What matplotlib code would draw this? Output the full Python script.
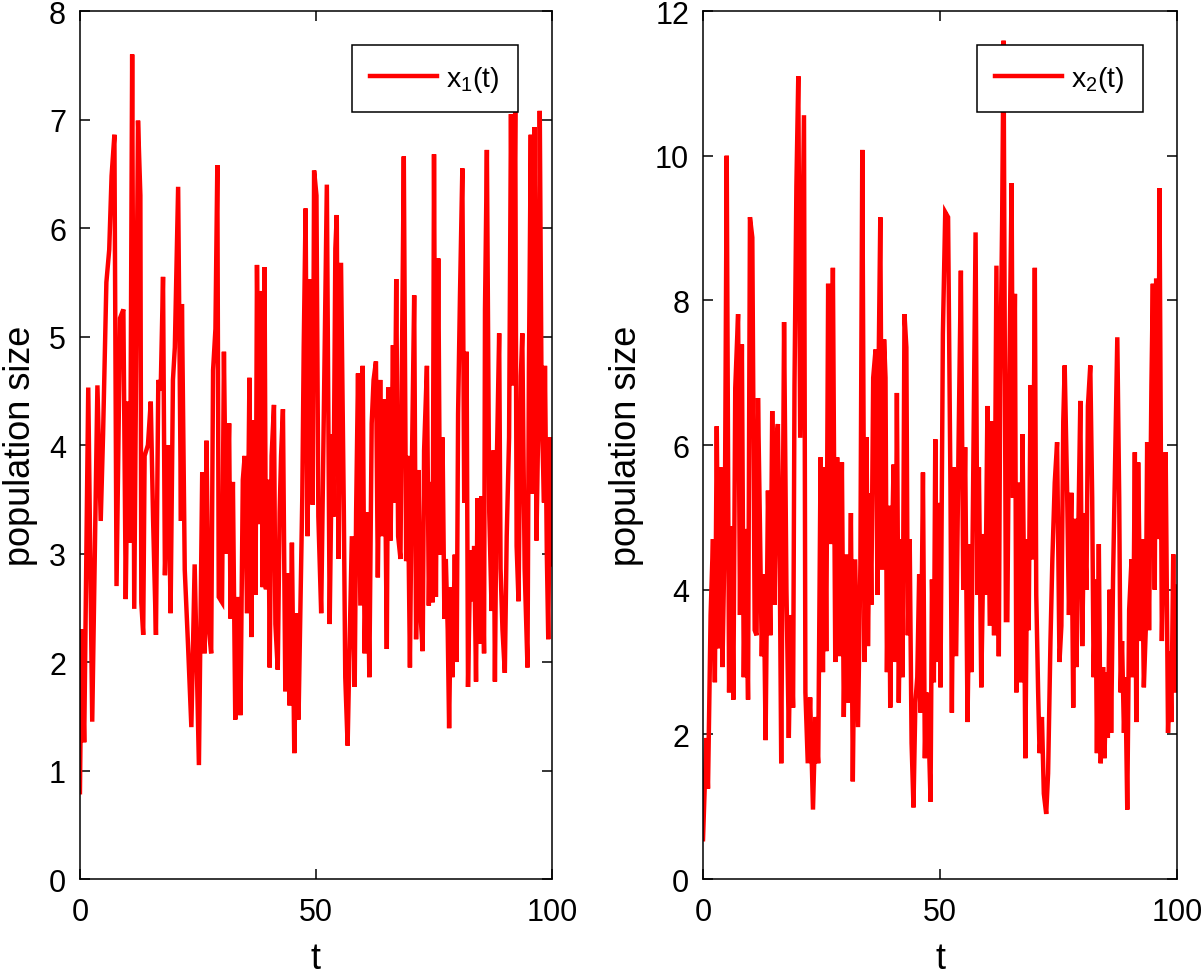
import matplotlib
matplotlib.use("Agg")
import matplotlib.pyplot as plt

# values (peaks / troughs of each path)
t1 = [0.0, 0.35, 0.9, 1.76, 2.6, 3.7, 4.4, 4.9, 5.6, 6.2, 6.7, 7.3, 7.75, 8.5, 9.2, 9.7,
      10.2, 10.6, 11.06, 11.5, 12.3, 12.8, 13.0, 13.4, 13.7, 14.4, 15.0, 15.5, 16.1, 16.6,
      17.1, 17.6, 18.0, 18.7, 19.2, 19.7, 20.1, 20.8, 21.4, 21.6, 22.2, 22.9, 23.6, 24.3,
      25.2, 25.9, 26.4, 26.8, 27.3, 27.8, 28.2, 28.7, 29.1, 29.4, 30.1, 30.5, 31.0, 31.6,
      31.9, 32.4, 32.9, 33.5, 34.0, 34.5, 34.9, 35.4, 35.9, 36.3, 36.8, 37.2, 37.5, 38.0,
      38.5, 38.7, 39.1, 39.4, 39.9, 40.2, 40.6, 41.1, 41.4, 41.9, 42.3, 42.6, 43.0, 43.5,
      44.0, 44.4, 44.9, 45.4, 45.9, 46.3, 46.7, 47.1, 47.4, 47.8, 48.2, 48.6, 48.9, 49.3,
      49.6, 50.1, 50.5, 51.1, 51.6, 52.3, 52.9, 53.4, 53.7, 54.1, 54.4, 54.8, 55.3, 55.9,
      56.2, 56.7, 57.1, 57.6, 58.2, 58.5, 58.9, 59.4, 59.9, 60.3, 60.8, 61.3, 61.8, 62.2,
      62.7, 63.1, 63.6, 64.0, 64.5, 65.0, 65.3, 65.8, 66.3, 66.6, 67.0, 67.4, 67.9, 68.2,
      68.6, 69.1, 69.4, 69.9, 70.3, 70.8, 71.2, 71.7, 72.1, 72.6, 72.9, 73.5, 73.9, 74.3,
      74.7, 75.0, 75.4, 75.9, 76.3, 76.8, 77.2, 77.5, 77.9, 78.2, 78.6, 78.9, 79.4, 79.8,
      80.1, 80.5, 81.0, 81.4, 81.9, 82.2, 82.7, 83.2, 83.5, 83.9, 84.2, 84.7, 85.1, 85.6,
      85.8, 86.2, 86.7, 87.2, 87.6, 87.9, 88.3, 88.8, 89.1, 89.5, 90.0, 90.4, 90.9, 91.3,
      91.7, 92.2, 92.5, 92.9, 93.4, 93.7, 94.2, 94.8, 95.1, 95.5, 95.8, 96.3, 96.7, 97.1,
      97.4, 97.8, 98.3, 98.5, 98.9, 99.2, 99.6, 100.0]
x1 = [0.8, 2.3, 1.26, 4.53, 1.45, 4.55, 3.3, 4.1, 5.5, 5.8, 6.48, 6.86, 2.7, 5.17, 5.25, 2.58,
      4.4, 3.1, 7.6, 2.49, 6.99, 6.3, 2.55, 2.25, 3.9, 4.0, 4.4, 3.3, 2.25, 4.6,
      4.5, 5.55, 2.8, 4.0, 2.45, 4.6, 4.9, 6.38, 3.3, 5.3, 2.85, 2.15, 1.4, 2.9,
      1.05, 3.75, 2.08, 4.04, 2.3, 2.08, 4.69, 5.07, 6.58, 2.6, 2.55, 4.86, 3.0, 4.2,
      2.4, 3.66, 1.47, 2.6, 1.51, 3.68, 3.9, 2.45, 4.62, 2.23, 4.23, 2.62, 5.66, 3.27,
      5.42, 2.69, 5.64, 2.67, 3.68, 1.95, 3.9, 4.37, 2.35, 1.93, 3.38, 3.9, 4.33, 1.73,
      2.82, 1.6, 3.1, 1.16, 2.45, 1.47, 2.52, 3.53, 4.9, 6.18, 3.16, 4.69, 5.53, 3.45,
      6.53, 6.3, 3.34, 2.45, 4.07, 6.4, 2.35, 4.1, 3.34, 5.81, 6.12, 2.95, 5.68, 3.38,
      1.86, 1.23, 2.12, 3.16, 1.77, 3.38, 4.66, 2.52, 4.73, 2.08, 3.38, 1.86, 4.2, 4.6,
      4.77, 2.78, 4.6, 3.16, 4.42, 2.12, 4.53, 3.12, 4.92, 3.47, 5.53, 3.16, 2.95, 4.73,
      6.66, 2.93, 3.9, 1.95, 3.77, 5.38, 2.21, 3.77, 2.47, 2.1, 3.95, 4.73, 2.52, 3.66,
      2.55, 6.68, 2.6, 5.72, 2.99, 4.07, 2.4, 2.95, 2.3, 1.39, 2.69, 1.86, 2.99, 2.0,
      4.29, 5.38, 6.55, 3.47, 4.86, 1.77, 3.03, 2.56, 3.07, 1.82, 3.51, 2.17, 3.53, 2.08,
      5.25, 6.72, 3.38, 2.47, 3.95, 1.82, 3.83, 5.03, 2.86, 2.3, 1.9, 3.16, 4.07, 7.05,
      4.55, 7.1, 3.07, 2.56, 4.64, 5.03, 2.86, 1.95, 4.69, 6.86, 3.55, 6.93, 3.12, 4.25,
      7.08, 4.33, 3.47, 4.73, 2.99, 2.21, 4.07, 2.9]

t2 = [0.0, 0.7, 1.05, 1.6, 2.1, 2.5, 2.9, 3.3, 3.7, 4.1, 4.6, 5.0, 5.5, 6.0, 6.4, 6.8,
      7.4, 7.8, 8.2, 8.6, 9.0, 9.5, 9.9, 10.4, 10.9, 11.3, 11.6, 12.0, 12.4, 12.8, 13.2,
      13.7, 14.2, 14.6, 15.1, 15.5, 15.8, 16.2, 16.5, 17.1, 17.6, 18.1, 18.5, 19.0, 19.3,
      19.7, 20.1, 20.5, 21.3, 21.6, 22.1, 22.6, 23.2, 23.7, 24.3, 24.8, 25.3, 25.7, 26.0,
      26.4, 26.9, 27.4, 27.9, 28.3, 28.8, 29.3, 29.7, 30.2, 30.7, 31.2, 31.6, 32.1, 32.7,
      33.2, 33.6, 34.1, 34.5, 34.8, 35.2, 35.5, 35.9, 36.4, 36.8, 37.1, 37.4, 37.8, 38.2,
      38.5, 38.8, 39.2, 39.5, 39.9, 40.2, 40.6, 40.9, 41.3, 41.7, 42.1, 42.5, 42.9, 43.2,
      43.6, 44.0, 44.4, 44.8, 45.2, 45.6, 45.9, 46.4, 46.8, 47.1, 47.5, 48.0, 48.3, 48.7,
      49.0, 49.4, 49.8, 50.1, 50.6, 51.1, 51.7, 52.2, 52.5, 52.9, 53.4, 53.9, 54.4, 54.9,
      55.3, 55.8, 56.3, 56.6, 57.0, 57.5, 57.9, 58.2, 58.7, 59.2, 59.6, 60.0, 60.5, 61.0,
      61.4, 61.9, 62.4, 62.7, 63.1, 63.4, 63.9, 64.2, 64.6, 65.1, 65.4, 65.8, 66.1, 66.6,
      67.0, 67.4, 67.7, 68.0, 68.4, 68.7, 69.1, 69.6, 70.0, 70.3, 70.7, 71.0, 71.5, 71.9,
      72.4, 72.8, 73.3, 73.7, 74.2, 74.7, 75.2, 75.6, 76.0, 76.3, 76.8, 77.2, 77.7, 78.1,
      78.4, 78.8, 79.1, 79.6, 80.0, 80.4, 80.9, 81.2, 81.7, 82.1, 82.4, 82.8, 83.1, 83.5,
      83.9, 84.4, 84.7, 85.1, 85.4, 85.8, 86.1, 86.5, 87.0, 87.4, 87.8, 88.1, 88.4, 88.8,
      89.1, 89.5, 89.9, 90.4, 90.7, 91.1, 91.4, 91.8, 92.3, 92.6, 93.0, 93.4, 93.7, 94.1,
      94.6, 94.9, 95.3, 95.6, 96.0, 96.3, 96.8, 97.3, 97.6, 98.1, 98.5, 98.8, 99.2, 99.5,
      99.85, 100.0]
x2 = [0.55, 1.95, 1.25, 3.65, 4.7, 2.72, 6.26, 3.19, 5.69, 2.93, 4.88, 10.0, 2.58, 4.88, 2.48, 6.79,
      7.81, 3.65, 7.39, 2.79, 4.84, 2.48, 9.15, 8.87, 3.44, 3.37, 6.65, 4.92, 3.08, 4.21, 1.92,
      5.37, 3.37, 6.47, 3.79, 6.08, 6.29, 4.28, 1.6, 7.7, 4.0, 1.95, 3.65, 2.37, 6.83,
      9.58, 11.1, 6.1, 10.56, 2.58, 1.6, 2.51, 0.96, 2.24, 1.6, 5.83, 2.86, 5.69, 3.15,
      8.23, 4.63, 8.45, 3.0, 5.83, 3.08, 5.76, 2.24, 4.49, 2.44, 5.06, 1.35, 4.42, 2.1,
      4.35, 10.08, 3.0, 6.11, 3.22, 5.33, 3.79, 6.93, 7.32, 3.93, 7.39, 9.15, 4.28, 7.46,
      6.93, 2.86, 5.16, 2.37, 4.7, 5.73, 3.0, 6.72, 2.44, 4.7, 2.79, 7.81, 7.35, 3.37,
      4.7, 1.88, 0.99, 2.44, 2.79, 4.21, 2.3, 5.62, 1.67, 2.58, 2.3, 1.07, 4.14, 2.72,
      6.08, 3.0, 5.2, 2.65, 7.53, 9.22, 9.15, 5.41, 2.3, 5.69, 3.08, 5.97, 8.41, 4.0,
      5.97, 2.17, 4.63, 2.86, 5.55, 8.94, 3.93, 5.69, 2.65, 4.77, 3.93, 6.54, 3.5, 6.33,
      3.37, 8.48, 3.08, 6.83, 9.08, 11.59, 3.58, 3.58, 6.83, 9.62, 5.27, 8.09, 2.58, 5.48,
      2.72, 6.15, 4.28, 1.67, 4.7, 3.44, 6.83, 4.42, 8.45, 3.93, 2.58, 1.74, 2.24, 1.18,
      0.9, 1.46, 3.29, 4.42, 5.48, 6.04, 3.0, 3.5, 6.33, 7.1, 5.41, 3.65, 5.34, 2.37,
      4.98, 2.93, 4.49, 6.61, 3.22, 5.06, 4.0, 6.54, 7.1, 5.27, 2.79, 4.14, 1.74, 4.63,
      1.6, 2.93, 1.67, 2.86, 1.95, 4.0, 2.02, 4.14, 6.04, 7.49, 5.27, 2.58, 3.29, 2.02,
      2.79, 0.96, 3.72, 4.42, 2.79, 5.9, 2.17, 5.76, 3.29, 4.7, 2.65, 3.44, 6.04, 3.44,
      6.83, 8.23, 4.0, 8.3, 4.7, 9.55, 3.29, 5.2, 5.9, 2.02, 3.15, 2.17, 4.49, 2.58,
      4.07, 3.1]

LEG_LABELS = ["x$_{1}$(t)", "x$_{2}$(t)"]

plt.rcParams.update({
    "font.family": ["Liberation Sans", "DejaVu Sans"],
    "mathtext.fontset": "custom",
    "mathtext.rm": "Liberation Sans",
    "mathtext.it": "Liberation Sans",
    "mathtext.default": "regular",
    "font.size": 22,
    "axes.linewidth": 1.1,
})

fig = plt.figure(figsize=(12.04, 9.79), dpi=100)
ax1 = fig.add_axes([0.0664, 0.1011, 0.3921, 0.8866])
ax2 = fig.add_axes([0.5839, 0.1011, 0.3937, 0.8866])

panels = [
    (ax1, t1, x1, 8, range(0, 9), LEG_LABELS[0]),
    (ax2, t2, x2, 12, range(0, 13, 2), LEG_LABELS[1]),
]
for ax, t, x, ymax, yt, lab in panels:
    ax.plot(t, x, color="#ff0000", linewidth=3.2, solid_joinstyle="miter", label=lab)
    ax.set_xlim(0, 100)
    ax.set_ylim(0, ymax)
    ax.set_xticks([0, 50, 100])
    ax.set_yticks(list(yt))
    ax.tick_params(direction="in", length=7, width=1.1, top=True, right=True, labelsize=22)
    ax.tick_params(axis="x", pad=13)
    ax.tick_params(axis="y", pad=10)
    ax.set_xlabel("t", fontsize=26, labelpad=10)
    ax.set_ylabel("population size", fontsize=26, labelpad=8)
    leg = ax.legend(loc="upper right", fontsize=20.5, handlelength=2.35, handletextpad=0.3,
                    fancybox=False, framealpha=1, edgecolor="black", borderaxespad=1.2,
                    borderpad=0.65)
    leg.get_frame().set_linewidth(1.1)

fig.savefig("out.png", dpi=100)
